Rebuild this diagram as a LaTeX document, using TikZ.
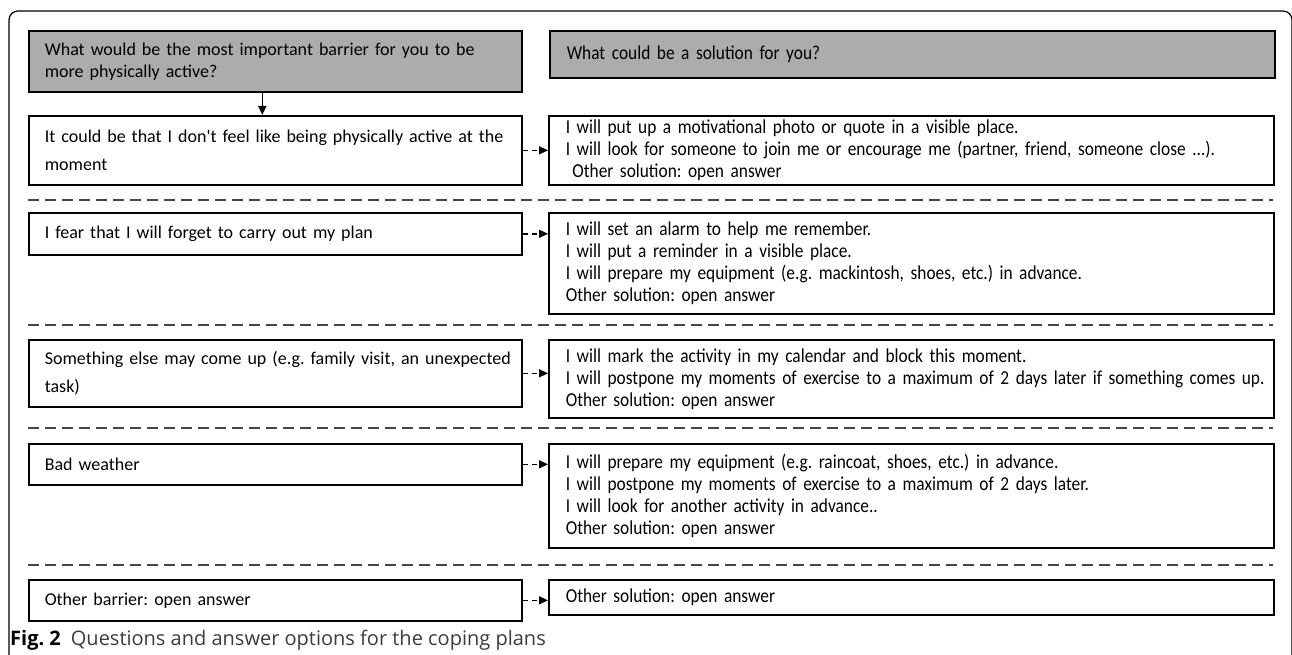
\documentclass[tikz,border=0pt]{standalone}
\usepackage{fontspec}
\setmainfont{Carlito}
\newfontfamily\solfont[FakeStretch=0.88]{Carlito}
\newfontfamily\capfont{Open Sans}
\usetikzlibrary{arrows.meta,calc}
\definecolor{hdrgray}{RGB}{172,172,172}
\definecolor{capgray}{RGB}{60,60,60}
\definecolor{sepgray}{RGB}{70,70,70}
\begin{document}
\frenchspacing
\begin{tikzpicture}[x=1pt,y=-1pt,
  basebox/.style={draw=black, line width=1.6pt, fill=white, anchor=north west, align=left, inner ysep=0pt},
  barrier/.style={basebox, inner xsep=16pt, text width=461pt, minimum width=493pt, font=\fontsize{18}{28}\selectfont},
  solution/.style={basebox, inner xsep=17pt, text width=691pt, minimum width=725pt, font=\solfont\fontsize{19.7}{22}\selectfont},
  lhead/.style={barrier, fill=hdrgray, font=\fontsize{18}{22}\selectfont},
  rhead/.style={solution, fill=hdrgray},
  conn/.style={line width=1.4pt, dash pattern=on 5pt off 4pt, -{Triangle[length=9pt,width=8pt]}},
  down/.style={line width=1.5pt, -{Triangle[length=9pt,width=8pt]}},
  sepline/.style={draw=sepgray, line width=1.2pt, dash pattern=on 11pt off 6pt}
]
\useasboundingbox (0,0) rectangle (1292,655);
\clip (0,0) rectangle (1292,655);
\draw[line width=1.2pt, rounded corners=9pt] (9,11) rectangle (1292,700);

% headers
\node[lhead, minimum height=61pt] (h1) at (28,30) {What would be the most important barrier for you to be\\more physically active?};
\node[rhead, minimum height=47pt] (h2) at (549,30) {What could be a solution for you?};

% row 1
\node[barrier, minimum height=69pt] (b1) at (28,115) {\mbox{It could be that I don\textquotesingle t feel like being physically active at the}\\moment};
\node[solution, minimum height=69pt] (s1) at (548,115) {I will put up a motivational photo or quote in a visible place.\\\mbox{I will look for someone to join me or encourage me (partner, friend, someone close ...).}\\\ Other solution: open answer};

% row 2
\node[barrier, minimum height=42pt] (b2) at (28,212) {I fear that I will forget to carry out my plan};
\node[solution, minimum height=101pt] (s2) at (548,212) {I will set an alarm to help me remember.\\I will put a reminder in a visible place.\\I will prepare my equipment (e.g. mackintosh, shoes, etc.) in advance.\\Other solution: open answer};

% row 3
\node[barrier, minimum height=67pt] (b3) at (28,339) {\mbox{Something else may come up (e.g. family visit, an unexpected}\\task)};
\node[solution, minimum height=78pt] (s3) at (548,339) {I will mark the activity in my calendar and block this moment.\\\mbox{I will postpone my moments of exercise to a maximum of 2 days later if something comes up.}\\Other solution: open answer};

% row 4
\node[barrier, minimum height=41pt] (b4) at (28,443) {Bad weather};
\node[solution, minimum height=104pt] (s4) at (548,443) {I will prepare my equipment (e.g. raincoat, shoes, etc.) in advance.\\I will postpone my moments of exercise to a maximum of 2 days later.\\I will look for another activity in advance..\\Other solution: open answer};

% row 5
\node[barrier, minimum height=41pt] (b5) at (28,579) {Other barrier: open answer};
\node[solution, minimum height=35pt] (s5) at (548,579) {Other solution: open answer};

% separators
\draw[sepline] (28,200) -- (1273,200);
\draw[sepline] (28,325) -- (1273,325);
\draw[sepline] (28,428) -- (1273,428);
\draw[sepline] (28,565) -- (1273,565);

% connectors
\draw[down] ($(h1.south)+(-13,0)$) -- ($(b1.north)+(-13,0)$);
\draw[conn] (b1.east) -- (b1.east -| s1.west);
\draw[conn] (b2.east) -- (b2.east -| s2.west);
\draw[conn] (b3.east) -- (b3.east -| s3.west);
\draw[conn] (b4.east) -- (b4.east -| s4.west);
\draw[conn] (b5.east) -- (b5.east -| s5.west);

% caption
\node[anchor=base west, inner sep=0pt, font=\capfont\fontsize{20}{22}\selectfont] (cap) at (10,645) {\textbf{Fig. 2}\hspace{10pt}{\color{capgray}Questions and answer options for the coping plans}};
\end{tikzpicture}
\end{document}
